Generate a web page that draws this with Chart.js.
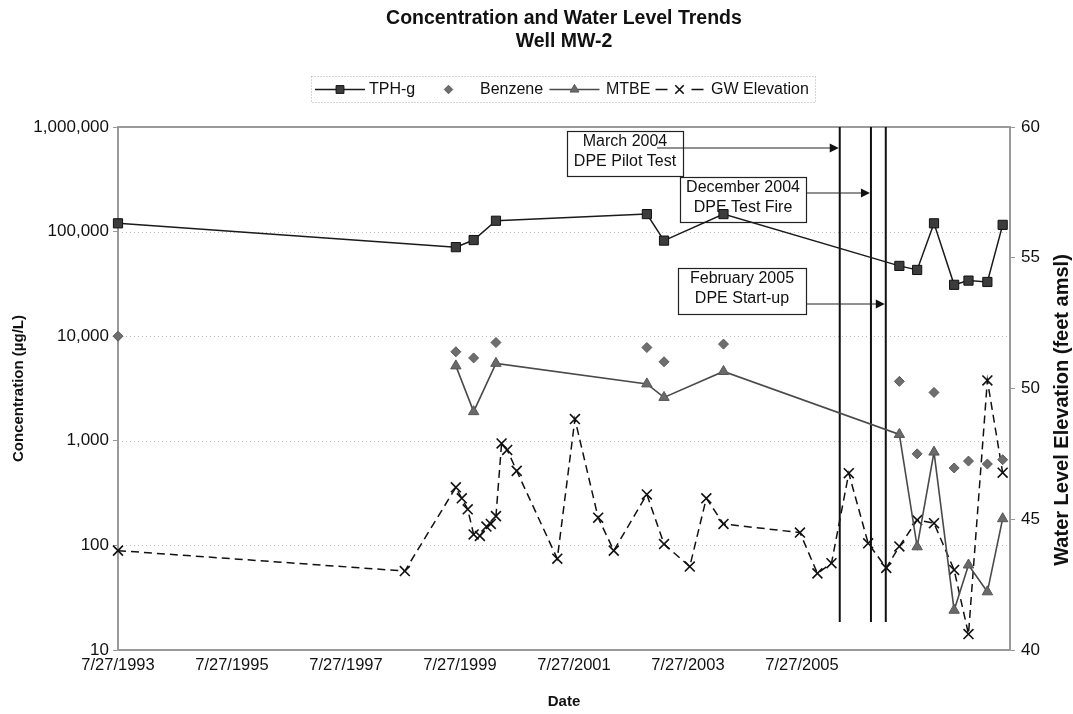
<!DOCTYPE html>
<html>
<head>
<meta charset="utf-8">
<title>Concentration and Water Level Trends - Well MW-2</title>
<script src="https://cdn.jsdelivr.net/npm/chart.js@4.4.0/dist/chart.umd.min.js"></script>
<style>
  html, body { margin: 0; padding: 0; background: #fff; }
  #wrap { width: 1073px; height: 714px; }
</style>
</head>
<body>
<div id="wrap"><canvas id="chart" width="1073" height="714"></canvas></div>
<script>
// ---- Sampling data -------------------------------------------------------
const sampleDates = ['7/27/1993', '7/1/1999', '10/23/1999', '3/14/2000', '11/6/2002', '2/24/2003',
  '3/11/2004', '4/12/2007', '8/4/2007', '11/20/2007', '3/28/2008', '6/28/2008', '10/27/2008', '2/2/2009'];
const tphG    = [120000, 71000, 83000, 127000, 147000, 82000, 147000, 47000, 43000, 120000, 31000, 34000, 33000, 116000];
const benzene = [10000, 7100, 6200, 8700, 7800, 5700, 8400, 3700, 750, 2900, 550, 640, 600, 660];
const mtbe    = [null, 5200, 1900, 5500, 3500, 2600, 4600, 1150, 97, 780, 24, 65, 36, 180];

const gwDates = ['7/27/1993', '8/8/1998', '7/1/1999', '8/8/1999', '9/15/1999', '10/23/1999', '12/2/1999',
  '1/13/2000', '2/10/2000', '3/14/2000', '4/19/2000', '5/25/2000', '7/25/2000', '4/11/2001', '8/2/2001',
  '12/29/2001', '4/8/2002', '11/6/2002', '2/24/2003', '8/8/2003', '11/22/2003', '3/11/2004', '7/14/2005',
  '11/3/2005', '2/1/2006', '5/23/2006', '9/24/2006', '1/18/2007', '4/12/2007', '8/4/2007', '11/20/2007',
  '3/28/2008', '6/28/2008', '10/27/2008', '2/2/2009'];
const gwElevation = [43.80, 43.02, 46.22, 45.80, 45.38, 44.42, 44.36, 44.72, 44.82, 45.12, 47.90, 47.65,
  46.85, 43.49, 48.83, 45.06, 43.80, 45.95, 44.05, 43.19, 45.80, 44.82, 44.49, 42.93, 43.32, 46.76,
  44.08, 43.14, 43.96, 44.97, 44.85, 43.06, 40.61, 50.31, 46.78];

// ---- Axes -----------------------------------------------------------------
const dateTicks = ['7/27/1993', '7/27/1995', '7/27/1997', '7/27/1999', '7/27/2001', '7/27/2003', '7/27/2005'];
const dateRange = ['7/27/1993', '3/21/2009'];
const concTicks = [10, 100, 1000, 10000, 100000, 1000000];
const elevTicks = [40, 45, 50, 55, 60];

// ---- Remediation events (vertical marker lines and callouts) --------------
const eventDates  = ['3/26/2006', '10/12/2006', '1/15/2007'];
const eventLabels = [['March 2004', 'DPE Pilot Test'], ['December 2004', 'DPE Test Fire'], ['February 2005', 'DPE Start-up']];
const eventLineFloor = 18.5;   // concentration value where the marker lines stop

// ---------------------------------------------------------------------------
const FONT = "'Liberation Sans', Arial, Helvetica, sans-serif";
Chart.defaults.font.family = FONT;
Chart.defaults.color = '#111';

function toDay(s) {
  const [m, d, y] = s.split('/').map(Number);
  return Date.UTC(y, m - 1, d) / 86400000;
}
function pairs(dates, values) {
  return dates.map((d, i) => ({ x: toDay(d), y: values[i] }));
}

// callout geometry (px, relative to the canvas) – box and arrow start
const calloutLayout = [
  { x: 567, y: 131, w: 116, h: 45, arrowY: 148, arrowFrom: 657 },
  { x: 680, y: 177, w: 126, h: 45, arrowY: 193, arrowFrom: 806 },
  { x: 678, y: 268, w: 128, h: 46, arrowY: 304, arrowFrom: 806 }
];

const datasets = [
  {
    label: 'TPH-g', data: pairs(sampleDates, tphG), yAxisID: 'y',
    borderColor: '#1a1a1a', borderWidth: 1.5,
    pointStyle: 'rect', pointRadius: 6.5, pointBackgroundColor: '#3c3c3c',
    pointBorderColor: '#111', pointBorderWidth: 1, clip: false
  },
  {
    label: 'Benzene', data: pairs(sampleDates, benzene), yAxisID: 'y', showLine: false,
    pointStyle: 'rectRot', pointRadius: 5, pointBackgroundColor: '#6e6e6e',
    pointBorderColor: '#5a5a5a', pointBorderWidth: 1, clip: false
  },
  {
    label: 'MTBE', data: pairs(sampleDates, mtbe), yAxisID: 'y',
    borderColor: '#4a4a4a', borderWidth: 1.6,
    pointStyle: 'triangle', pointRadius: 6, pointBackgroundColor: '#6a6a6a',
    pointBorderColor: '#555', pointBorderWidth: 1, clip: false
  },
  {
    label: 'GW Elevation', data: pairs(gwDates, gwElevation), yAxisID: 'y2',
    borderColor: '#111', borderWidth: 1.5, borderDash: [8, 5],
    pointStyle: 'crossRot', pointRadius: 7, pointBorderColor: '#111',
    pointBorderWidth: 1.6, pointBackgroundColor: '#111', clip: false
  }
];

function drawArrow(ctx, x1, x2, y) {
  ctx.beginPath();
  ctx.moveTo(x1, y);
  ctx.lineTo(x2 - 7, y);
  ctx.stroke();
  ctx.beginPath();
  ctx.moveTo(x2, y);
  ctx.lineTo(x2 - 9, y - 4.5);
  ctx.lineTo(x2 - 9, y + 4.5);
  ctx.closePath();
  ctx.fill();
}

const decor = {
  id: 'decor',
  beforeDatasetsDraw(chart) {
    const { ctx, chartArea: a, scales } = chart;
    const xs = scales.x, ys = scales.y;
    ctx.save();

    // dotted horizontal grid lines on the concentration decades
    ctx.strokeStyle = '#bdbdbd';
    ctx.lineWidth = 1;
    ctx.setLineDash([1, 3]);
    concTicks.slice(1, -1).forEach(v => {
      const py = Math.round(ys.getPixelForValue(v)) + 0.5;
      ctx.beginPath();
      ctx.moveTo(a.left, py);
      ctx.lineTo(a.right, py);
      ctx.stroke();
    });
    ctx.setLineDash([]);

    // plot frame
    ctx.strokeStyle = '#9a9a9a';
    ctx.lineWidth = 2;
    ctx.strokeRect(a.left, a.top, a.right - a.left, a.bottom - a.top);

    // event marker lines
    const floorY = ys.getPixelForValue(eventLineFloor);
    ctx.strokeStyle = '#111';
    ctx.lineWidth = 2;
    const lineX = eventDates.map(d => xs.getPixelForValue(toDay(d)));
    lineX.forEach(px => {
      ctx.beginPath();
      ctx.moveTo(px, a.top);
      ctx.lineTo(px, floorY);
      ctx.stroke();
    });

    // callout boxes with arrows to their marker lines
    ctx.font = '16px ' + FONT;
    ctx.textAlign = 'center';
    ctx.textBaseline = 'middle';
    calloutLayout.forEach((b, i) => {
      ctx.fillStyle = '#fff';
      ctx.fillRect(b.x, b.y, b.w, b.h);
      ctx.strokeStyle = '#222';
      ctx.lineWidth = 1.2;
      ctx.strokeRect(b.x + 0.5, b.y + 0.5, b.w, b.h);
      ctx.fillStyle = '#111';
      const cx = b.x + b.w / 2;
      ctx.fillText(eventLabels[i][0], cx, b.y + 11);
      ctx.fillText(eventLabels[i][1], cx, b.y + 31);
      ctx.lineWidth = 1;
      ctx.strokeStyle = '#222';
      ctx.fillStyle = '#111';
      drawArrow(ctx, b.arrowFrom, lineX[i] - 1, b.arrowY);
    });
    ctx.restore();
  },
  afterDraw(chart) {
    const { ctx, chartArea: a } = chart;
    ctx.save();
    const cx = (a.left + a.right) / 2;

    // title
    ctx.fillStyle = '#111';
    ctx.textAlign = 'center';
    ctx.textBaseline = 'middle';
    ctx.font = 'bold 19.5px ' + FONT;
    ctx.fillText('Concentration and Water Level Trends', cx, 19);
    ctx.fillText('Well MW-2', cx, 42);

    // legend
    const ly = 89.5;
    ctx.strokeStyle = '#aaa';
    ctx.lineWidth = 1;
    ctx.setLineDash([1, 2]);
    ctx.strokeRect(311.5, 76.5, 504, 26);
    ctx.setLineDash([]);
    const legendPos = [
      { c: 340, t: 369, line: true },
      { c: 448.5, t: 480, line: false },
      { c: 574.5, t: 606, line: true },
      { c: 679.5, t: 711, line: true }
    ];
    ctx.font = '16px ' + FONT;
    ctx.textAlign = 'left';
    chart.data.datasets.forEach((ds, i) => {
      const p = legendPos[i];
      if (p.line) {
        ctx.save();
        ctx.strokeStyle = ds.borderColor;
        ctx.lineWidth = ds.borderWidth;
        if (ds.borderDash) {
          ctx.beginPath(); ctx.moveTo(p.c - 24, ly); ctx.lineTo(p.c - 12, ly); ctx.stroke();
          ctx.beginPath(); ctx.moveTo(p.c + 12, ly); ctx.lineTo(p.c + 24, ly); ctx.stroke();
        } else {
          ctx.beginPath(); ctx.moveTo(p.c - 25, ly); ctx.lineTo(p.c + 25, ly); ctx.stroke();
        }
        ctx.restore();
      }
      ctx.save();
      ctx.fillStyle = ds.pointBackgroundColor;
      ctx.strokeStyle = ds.pointBorderColor;
      ctx.lineWidth = ds.pointBorderWidth;
      Chart.helpers.drawPoint(ctx, {
        pointStyle: ds.pointStyle, radius: ds.pointRadius * 0.85, rotation: 0, borderWidth: ds.pointBorderWidth
      }, p.c, ly);
      ctx.restore();
      ctx.fillStyle = '#111';
      ctx.fillText(ds.label, p.t, ly);
    });

    // right axis title (reads bottom to top)
    ctx.translate(1062, 410);
    ctx.rotate(-Math.PI / 2);
    ctx.textAlign = 'center';
    ctx.font = 'bold 20px ' + FONT;
    ctx.fillStyle = '#111';
    ctx.fillText('Water Level Elevation (feet amsl)', 0, 0);
    ctx.restore();
  }
};

new Chart(document.getElementById('chart'), {
  type: 'line',
  data: { datasets },
  options: {
    responsive: false,
    animation: false,
    devicePixelRatio: 1,
    layout: { padding: { top: 127, left: 0, right: 0, bottom: 0 } },
    plugins: { legend: { display: false }, title: { display: false }, tooltip: { enabled: false } },
    elements: { line: { tension: 0 } },
    scales: {
      x: {
        type: 'linear', position: 'bottom',
        min: toDay(dateRange[0]), max: toDay(dateRange[1]),
        afterBuildTicks: s => { s.ticks = dateTicks.map(d => ({ value: toDay(d) })); },
        afterFit: s => { s.height = 64; },
        grid: { display: false, drawTicks: false },
        border: { display: false },
        ticks: { autoSkip: false, maxRotation: 0, padding: 6, font: { size: 16.5 }, color: '#111',
                 callback: (v, i) => dateTicks[i] },
        title: { display: true, text: 'Date', font: { size: 15, weight: 'bold' }, color: '#111',
                 padding: { top: 0, bottom: 3 } }
      },
      y: {
        type: 'logarithmic', position: 'left', min: 10, max: 1000000,
        afterBuildTicks: s => { s.ticks = concTicks.map(v => ({ value: v, major: true })); },
        afterFit: s => { s.width = 118; },
        grid: { drawOnChartArea: false, drawTicks: true, tickLength: 5, color: '#999' },
        border: { display: false },
        ticks: { padding: 4, font: { size: 17 }, color: '#111',
                 callback: v => Number(v).toLocaleString('en-US') },
        title: { display: true, text: 'Concentration (µg/L)', font: { size: 15, weight: 'bold' },
                 color: '#111', padding: { top: 10, bottom: 0 } }
      },
      y2: {
        type: 'linear', position: 'right', min: 40, max: 60,
        afterBuildTicks: s => { s.ticks = elevTicks.map(v => ({ value: v })); },
        afterFit: s => { s.width = 63; },
        grid: { drawOnChartArea: false, drawTicks: true, tickLength: 5, color: '#999' },
        border: { display: false },
        ticks: { padding: 6, font: { size: 17 }, color: '#111' }
      }
    }
  },
  plugins: [decor]
});
</script>
</body>
</html>
